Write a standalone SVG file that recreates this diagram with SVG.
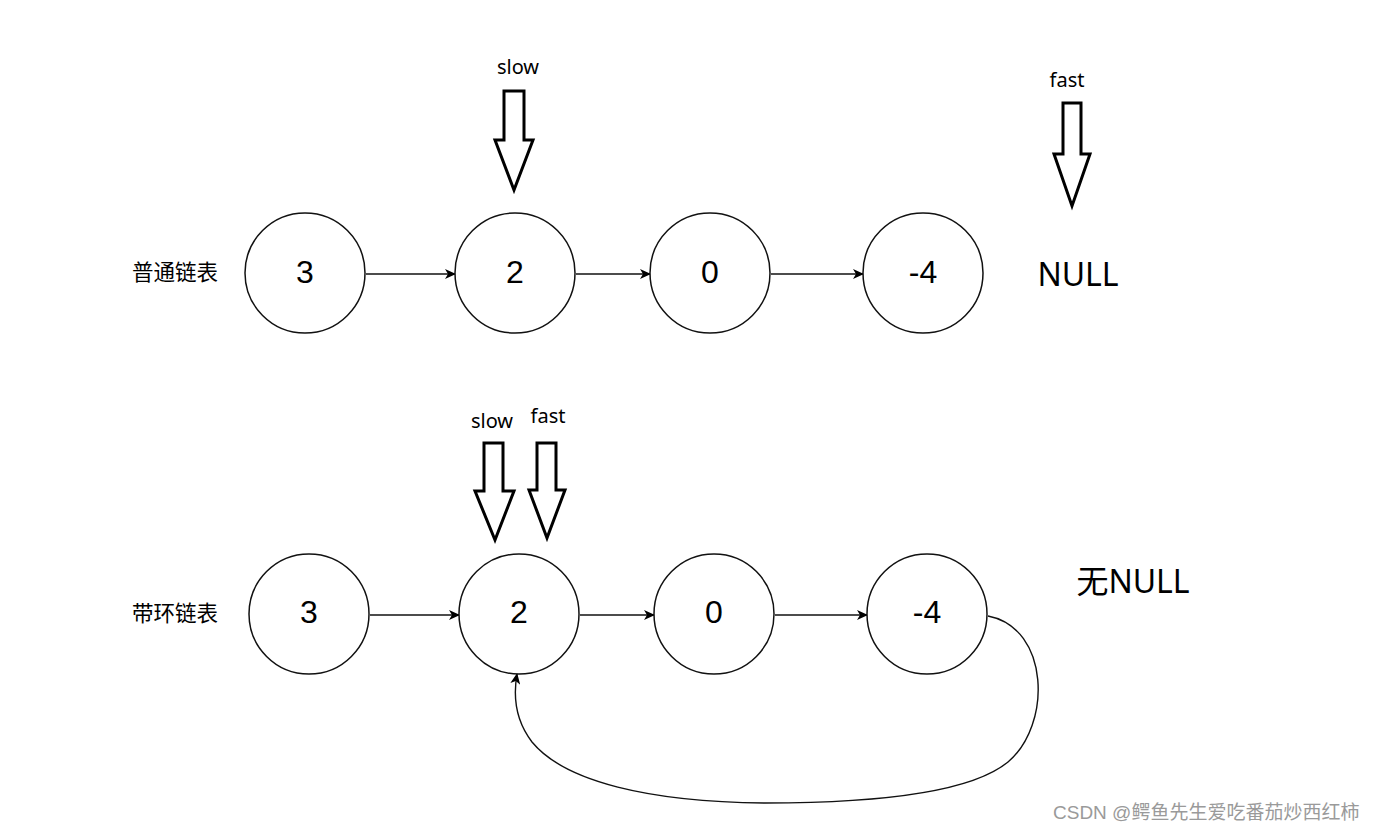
<svg xmlns="http://www.w3.org/2000/svg" width="1378" height="832" viewBox="0 0 1378 832">
<style>
.node circle{fill:#fff;stroke:#111;stroke-width:1.5}
.num{font-family:"Liberation Sans",Arial,sans-serif;font-size:32px;text-anchor:middle;dominant-baseline:central;fill:#000}
.lbl{font-family:"Noto Sans","Noto Sans CJK SC",sans-serif;font-size:20px;text-anchor:middle;fill:#000}
.cn{font-family:"Noto Sans CJK SC",sans-serif;font-size:21.5px;text-anchor:middle;fill:#000}
.big{font-family:"Noto Sans","Noto Sans CJK SC",sans-serif;font-size:32px;text-anchor:middle;fill:#000}
.ptr{fill:#fff;stroke:#000;stroke-width:3;stroke-linejoin:miter}
.edge{fill:none;stroke:#111;stroke-width:1.4}
.wm{font-family:"Liberation Sans","Noto Sans CJK SC",sans-serif;font-size:19px;fill:#9a9a9a}
</style>
<defs>
<marker id="ah" markerWidth="12" markerHeight="10" refX="10" refY="5" orient="auto" markerUnits="userSpaceOnUse">
<path d="M0,0 L11,5 L0,10 L3,5 Z" fill="#000"/>
</marker>
</defs>
<rect width="1378" height="832" fill="#fff"/>
<g id="connectors">
<line class="edge" x1="366" y1="274" x2="455" y2="274" marker-end="url(#ah)"/>
<line class="edge" x1="576" y1="274" x2="650" y2="274" marker-end="url(#ah)"/>
<line class="edge" x1="771" y1="274" x2="863" y2="274" marker-end="url(#ah)"/>
<line class="edge" x1="370" y1="615" x2="459" y2="615" marker-end="url(#ah)"/>
<line class="edge" x1="580" y1="615" x2="654" y2="615" marker-end="url(#ah)"/>
<line class="edge" x1="775" y1="615" x2="867" y2="615" marker-end="url(#ah)"/>
<path class="edge" d="M 988 616 C 1050 628, 1052 725, 1008 762 C 968 795, 860 803, 765 803 C 650 802, 565 782, 532 742 C 515 720, 513 697, 517 674" marker-end="url(#ah)"/>
</g>
<g id="label-normal"><text class="cn" x="175" y="280">普通链表</text></g>
<g id="label-cycle"><text class="cn" x="175" y="621">带环链表</text></g>
<g id="n1" class="node"><circle cx="305" cy="273" r="60"/><text class="num" x="305" y="272">3</text></g>
<g id="n2" class="node"><circle cx="515" cy="273" r="60"/><text class="num" x="515" y="272">2</text></g>
<g id="n3" class="node"><circle cx="710" cy="273" r="60"/><text class="num" x="710" y="272">0</text></g>
<g id="n4" class="node"><circle cx="923" cy="273" r="60"/><text class="num" x="923" y="272">-4</text></g>
<g id="null"><text class="big" x="1078" y="286">NULL</text></g>
<g id="m1" class="node"><circle cx="309" cy="614" r="60"/><text class="num" x="309" y="612">3</text></g>
<g id="m2" class="node"><circle cx="519" cy="614" r="60"/><text class="num" x="519" y="612">2</text></g>
<g id="m3" class="node"><circle cx="714" cy="614" r="60"/><text class="num" x="714" y="612">0</text></g>
<g id="m4" class="node"><circle cx="927" cy="614" r="60"/><text class="num" x="927" y="612">-4</text></g>
<g id="nonull"><text class="big" x="1133" y="593">无NULL</text></g>
<g id="slow-top">
<text class="lbl" x="518" y="74">slow</text>
<path class="ptr" d="M504,91 L524,91 L524,140 L533,140 L514,190 L495,140 L504,140 Z"/>
</g>
<g id="fast-top">
<text class="lbl" x="1067" y="87">fast</text>
<path class="ptr" d="M1063,103 L1081,103 L1081,154 L1090,154 L1072,206 L1054,154 L1063,154 Z"/>
</g>
<g id="slow-bottom">
<text class="lbl" x="492" y="428">slow</text>
<path class="ptr" d="M484,443 L503,443 L503,491 L514,491 L495,540 L475,491 L484,491 Z"/>
</g>
<g id="fast-bottom">
<text class="lbl" x="548" y="423">fast</text>
<path class="ptr" d="M537,443 L556,443 L556,490 L565,490 L547,538 L529,490 L537,490 Z"/>
</g>
<text class="wm" x="1053" y="819">CSDN @鳄鱼先生爱吃番茄炒西红柿</text>
</svg>
